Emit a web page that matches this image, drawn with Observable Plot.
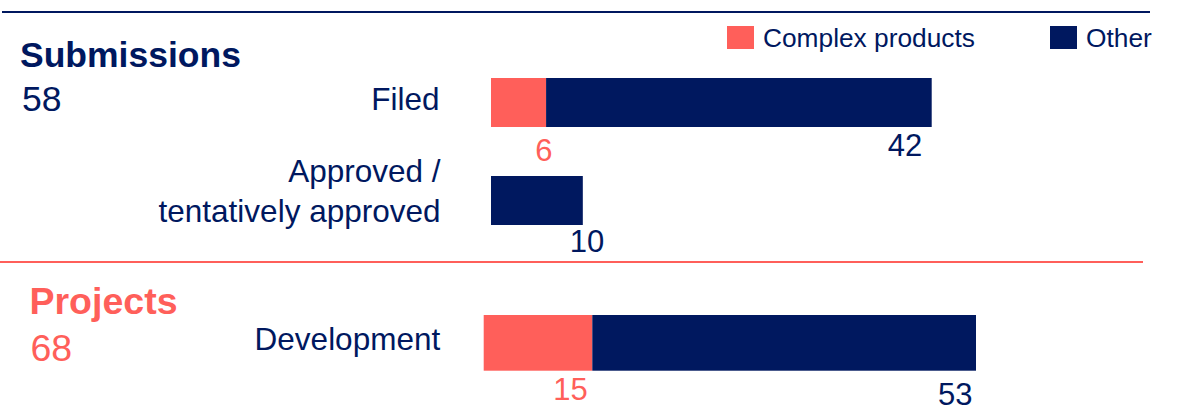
<!DOCTYPE html>
<html>
<head>
<meta charset="utf-8">
<script src="https://cdn.jsdelivr.net/npm/d3@7"></script>
<script src="https://cdn.jsdelivr.net/npm/@observablehq/plot@0.6"></script>
<style>
  body { margin: 0; background: #fff; font-family: "Liberation Sans", Arial, sans-serif; }
  #chart { position: relative; width: 1178px; height: 410px; overflow: hidden; background: #fff; }
  #chart svg { position: absolute; left: 0; }
  .rule { position: absolute; }
  .legend-item { position: absolute; top: 24.5px; height: 26px; display: flex; align-items: center; }
  .legend-item .sw { width: 27px; height: 23px; margin-right: 9px; }
  .legend-item .lb { font-size: 26.3px; line-height: 26px; color: #00185F; white-space: nowrap; }
</style>
</head>
<body>
<div id="chart"></div>
<script>
const NAVY = "#00185F";
const CORAL = "#FF5F5A";

// ---- data ----
const seriesNames = ["Complex products", "Other"];
const seriesColors = [CORAL, NAVY];

const submissionStages = ["Filed", "Approved / tentatively approved"];
const submissionStageLabels = ["Filed", "Approved /\ntentatively approved"];
const submissionComplex = [6, 0];
const submissionOther = [42, 10];

const projectStages = ["Development"];
const projectStageLabels = ["Development"];
const projectComplex = [15];
const projectOther = [53];

const groupTitles = ["Submissions", "Projects"];

// ---- helpers ----
function buildRows(stages, complex, other) {
  return stages.flatMap((s, i) => [
    {stage: s, series: seriesNames[0], value: complex[i], end: complex[i]},
    {stage: s, series: seriesNames[1], value: other[i], end: complex[i] + other[i]}
  ]);
}
const FONT = "'Liberation Sans', Arial, sans-serif";
const color = {domain: seriesNames, range: seriesColors};
const chart = document.getElementById("chart");

// ---- top panel: submissions ----
const subRows = buildRows(submissionStages, submissionComplex, submissionOther);
const subTotal = d3.sum(submissionComplex) + d3.sum(submissionOther);
const subMax = d3.max(submissionStages, (s, i) => submissionComplex[i] + submissionOther[i]);
const subLabel = new Map(submissionStages.map((s, i) => [s, submissionStageLabels[i]]));
const pick = (stage, series) => d => d.stage === stage && d.series === series;

const topPlot = Plot.plot({
  width: 1178, height: 262,
  marginTop: 0, marginRight: 0, marginBottom: 0, marginLeft: 0,
  style: {fontFamily: FONT, background: "transparent", overflow: "visible"},
  x: {domain: [0, subMax], range: [491, 931.7], axis: null},
  y: {domain: submissionStages, range: [53.5, 249.5], paddingInner: 0.5, paddingOuter: 0.25, round: false, axis: null},
  color,
  marks: [
    Plot.barX(subRows, {x1: d => d.end - d.value, x2: "end", y: "stage", fill: "series"}),
    Plot.text(submissionStages, {filter: d => d === submissionStages[0], x: 0, y: d => d, text: d => subLabel.get(d),
      textAnchor: "end", dx: -52, dy: -2.6, fontSize: 31.5, fill: NAVY}),
    Plot.text(submissionStages, {filter: d => d === submissionStages[1], x: 0, y: d => d, text: d => subLabel.get(d),
      textAnchor: "end", dx: -51, dy: -11.6, fontSize: 31.5, lineHeight: 1.27, fill: NAVY}),
    Plot.text(subRows, {filter: pick(submissionStages[0], seriesNames[0]), x: "end", y: "stage", text: "value",
      textAnchor: "end", lineAnchor: "bottom", dx: 6, dy: 58, fontSize: 31, fill: CORAL}),
    Plot.text(subRows, {filter: pick(submissionStages[0], seriesNames[1]), x: "end", y: "stage", text: "value",
      textAnchor: "end", lineAnchor: "bottom", dx: -10, dy: 52.5, fontSize: 31, fill: NAVY}),
    Plot.text(subRows, {filter: pick(submissionStages[1], seriesNames[1]), x: "end", y: "stage", text: "value",
      textAnchor: "end", lineAnchor: "bottom", dx: 21, dy: 50.5, fontSize: 31, fill: NAVY}),
    Plot.text([groupTitles[0]], {frameAnchor: "top-left", lineAnchor: "bottom", text: d => d,
      dx: 19.5, dy: 66, fontSize: 35.5, fontWeight: "bold", fill: NAVY}),
    Plot.text([subTotal], {frameAnchor: "top-left", lineAnchor: "bottom", text: d => d,
      dx: 21.5, dy: 110, fontSize: 35.5, fill: NAVY})
  ]
});
topPlot.style.top = "0px";
chart.appendChild(topPlot);

// ---- bottom panel: projects ----
const projRows = buildRows(projectStages, projectComplex, projectOther);
const projTotal = d3.sum(projectComplex) + d3.sum(projectOther);
const projMax = d3.max(projectStages, (s, i) => projectComplex[i] + projectOther[i]);
const projLabel = new Map(projectStages.map((s, i) => [s, projectStageLabels[i]]));

const bottomPlot = Plot.plot({
  width: 1178, height: 148,
  marginTop: 0, marginRight: 0, marginBottom: 0, marginLeft: 0,
  style: {fontFamily: FONT, background: "transparent", overflow: "visible"},
  x: {domain: [0, projMax], range: [483.7, 976], axis: null},
  y: {domain: projectStages, range: [53, 108.7], paddingInner: 0, paddingOuter: 0, round: false, axis: null},
  color,
  marks: [
    Plot.barX(projRows, {x1: d => d.end - d.value, x2: "end", y: "stage", fill: "series"}),
    Plot.text(projectStages, {x: 0, y: d => d, text: d => projLabel.get(d),
      textAnchor: "end", dx: -44, dy: -3, fontSize: 31.5, fill: NAVY}),
    Plot.text(projRows, {filter: pick(projectStages[0], seriesNames[0]), x: "end", y: "stage", text: "value",
      textAnchor: "end", lineAnchor: "bottom", dx: -5, dy: 57, fontSize: 31, fill: CORAL}),
    Plot.text(projRows, {filter: pick(projectStages[0], seriesNames[1]), x: "end", y: "stage", text: "value",
      textAnchor: "end", lineAnchor: "bottom", dx: -4, dy: 62, fontSize: 31, fill: NAVY}),
    Plot.text([groupTitles[1]], {frameAnchor: "top-left", lineAnchor: "bottom", text: d => d,
      dx: 29, dy: 51, fontSize: 37.5, fontWeight: "bold", fill: CORAL}),
    Plot.text([projTotal], {frameAnchor: "top-left", lineAnchor: "bottom", text: d => d,
      dx: 30, dy: 98, fontSize: 37.5, fill: CORAL})
  ]
});
bottomPlot.style.top = "262px";
chart.appendChild(bottomPlot);

// ---- rules ----
function rule(left, top, width, height, bg) {
  const r = document.createElement("div");
  r.className = "rule";
  Object.assign(r.style, {left: left + "px", top: top + "px", width: width + "px", height: height + "px", background: bg});
  chart.appendChild(r);
}
rule(2, 11, 1148, 2.4, NAVY);
rule(0, 260.7, 1143, 2, CORAL);

// ---- legend ----
const legendLefts = [727, 1050];
seriesNames.forEach((name, i) => {
  const item = document.createElement("div");
  item.className = "legend-item";
  item.style.left = legendLefts[i] + "px";
  const sw = document.createElement("div");
  sw.className = "sw";
  sw.style.background = seriesColors[i];
  const lb = document.createElement("span");
  lb.className = "lb";
  lb.textContent = name;
  item.appendChild(sw);
  item.appendChild(lb);
  chart.appendChild(item);
});
</script>
</body>
</html>
